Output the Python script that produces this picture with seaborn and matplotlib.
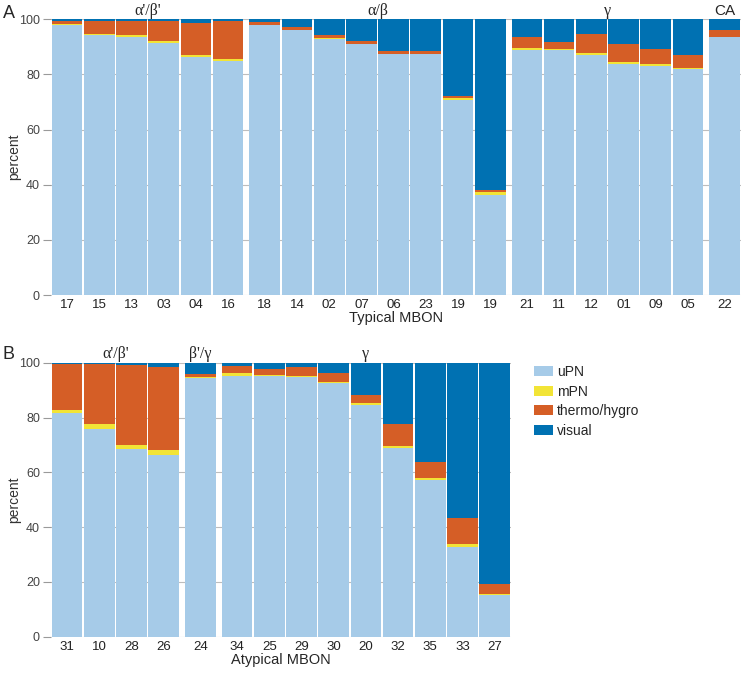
import numpy as np
import matplotlib.pyplot as plt
import seaborn as sns
from matplotlib.patches import Patch

sns.set_style('white')
plt.rcParams['font.family'] = ['Liberation Sans', 'DejaVu Sans']

# categories / colours
layer_names = ['uPN', 'mPN', 'thermo/hygro', 'visual']
layer_colors = ['#a6cbe8', '#f2e436', '#d55e26', '#0071b2']

# panel A: typical MBONs
typical_groups = ["α'/β'", "α/β", "γ", "CA"]
typical_sizes = [6, 8, 6, 1]
typical_labels = ['17', '15', '13', '03', '04', '16',
                  '18', '14', '02', '07', '06', '23', '19', '19',
                  '21', '11', '12', '01', '09', '05',
                  '22']
typical_upn = [98.0, 94.2, 93.7, 91.4, 86.2, 84.7,
               97.9, 96.0, 92.9, 90.9, 87.3, 87.3, 70.9, 36.1,
               88.9, 88.9, 87.1, 83.9, 83.2, 81.8,
               93.4]
typical_mpn = [0.4, 0.5, 0.5, 0.7, 1.0, 0.9,
               0.2, 0.2, 0.3, 0.2, 0.2, 0.2, 0.6, 1.2,
               0.6, 0.4, 0.6, 0.6, 0.6, 0.6,
               0.3]
typical_thermo = [1.0, 4.7, 5.2, 7.3, 11.5, 13.7,
                  0.9, 0.9, 1.0, 0.9, 0.9, 0.9, 0.7, 0.9,
                  4.1, 2.6, 7.0, 6.5, 5.3, 4.6,
                  2.4]
typical_visual = [0.6, 0.6, 0.6, 0.6, 1.3, 0.7,
                  1.0, 2.9, 5.8, 8.0, 11.6, 11.6, 27.8, 61.8,
                  6.4, 8.1, 5.3, 9.0, 10.9, 13.0,
                  3.9]

# panel B: atypical MBONs
atypical_groups = ["α'/β'", "β'/γ", "γ"]
atypical_sizes = [4, 1, 9]
atypical_labels = ['31', '10', '28', '26',
                   '24',
                   '34', '25', '29', '30', '20', '32', '35', '33', '27']
atypical_upn = [81.6, 75.9, 68.4, 66.3,
                94.4,
                95.3, 95.2, 94.7, 92.6, 84.7, 68.9, 57.2, 32.8, 15.2]
atypical_mpn = [1.0, 1.6, 1.7, 1.9,
                0.4,
                0.8, 0.4, 0.4, 0.5, 0.6, 0.6, 0.6, 1.0, 0.3]
atypical_thermo = [17.0, 22.1, 29.1, 30.2,
                   1.1,
                   2.6, 2.1, 3.4, 3.1, 2.9, 8.0, 6.1, 9.5, 3.6]
atypical_visual = [0.4, 0.4, 0.8, 1.6,
                   4.1,
                   1.3, 2.3, 1.5, 3.8, 11.8, 22.5, 36.1, 56.7, 80.9]

GAP = 0.14


def bar_positions(sizes):
    pos = []
    i = 0
    for g, n in enumerate(sizes):
        for _ in range(n):
            pos.append(i + g * GAP)
            i += 1
    return np.array(pos)


def draw_panel(ax, labels, sizes, groups, upn, mpn, thermo, visual, xlabel):
    pos = bar_positions(sizes)
    cum = np.cumsum([upn, mpn, thermo, visual], axis=0)
    # stacked look: draw the tallest layer first, then overlay the lower ones
    for heights, col in zip(cum[::-1], layer_colors[::-1]):
        sns.barplot(x=pos, y=heights, native_scale=True, width=0.955,
                    color=col, saturation=1, linewidth=0, errorbar=None,
                    ax=ax, zorder=2)
    ax.set_xlim(pos[0] - 0.5, pos[-1] + 0.5)
    ax.set_ylim(0, 100)
    ax.set_yticks(range(0, 101, 20))
    ax.set_xticks(pos, labels)
    ax.set_axisbelow(True)
    ax.yaxis.grid(True, color='#bdbdbd', lw=0.8, zorder=0)
    ax.xaxis.grid(False)
    for s in ax.spines.values():
        s.set_visible(False)
    ax.tick_params(axis='y', left=True, length=6, width=0.8, color='#9a9a9a',
                   labelsize=9, labelcolor='#444444', pad=2)
    ax.tick_params(axis='x', bottom=False, length=0, labelsize=9.5,
                   labelcolor='#222222', pad=3)
    ax.set_ylabel('')
    ax.set_xlabel(xlabel, fontsize=10.5, labelpad=0)

    start = 0
    for name, n in zip(groups, sizes):
        center = pos[start:start + n].mean()
        fam = 'Liberation Serif' if name != 'CA' else 'Liberation Sans'
        ax.text(center, 101.6, name, ha='center', va='baseline',
                family=fam, fontsize=11.5 if name != 'CA' else 11)
        start += n


W, H = 748, 681
fig = plt.figure(figsize=(W / 100, H / 100), dpi=100)

unit = 32.2  # pixels per bar
posA = bar_positions(typical_sizes)
posB = bar_positions(atypical_sizes)
left_px = 51
axA = fig.add_axes([left_px / W, (H - 295) / H,
                    (posA[-1] + 1) * unit / W, 275.7 / H])
axB = fig.add_axes([left_px / W, (H - 636.7) / H,
                    (posB[-1] + 1) * unit / W, 274 / H])

draw_panel(axA, typical_labels, typical_sizes, typical_groups,
           typical_upn, typical_mpn, typical_thermo, typical_visual,
           'Typical MBON')
draw_panel(axB, atypical_labels, atypical_sizes, atypical_groups,
           atypical_upn, atypical_mpn, atypical_thermo, atypical_visual,
           'Atypical MBON')

fig.text(3 / W, 1 - 18 / H, 'A', fontsize=13, va='baseline', ha='left')
fig.text(3 / W, 1 - 359 / H, 'B', fontsize=13, va='baseline', ha='left')
fig.text(14 / W, 1 - 157 / H, 'percent', rotation=90, ha='center',
         va='center', fontsize=10, color='#333333')
fig.text(14 / W, 1 - 500 / H, 'percent', rotation=90, ha='center',
         va='center', fontsize=10, color='#333333')

handles = [Patch(facecolor=c, edgecolor='none', label=n)
           for n, c in zip(layer_names, layer_colors)]
fig.legend(handles=handles, loc='upper left',
           bbox_to_anchor=(534 / W, 1 - 365 / H), frameon=False,
           fontsize=10, handlelength=1.35, handleheight=0.75,
           handletextpad=0.3, labelspacing=0.4, borderpad=0,
           borderaxespad=0)

fig.savefig('out.png', dpi=100)
